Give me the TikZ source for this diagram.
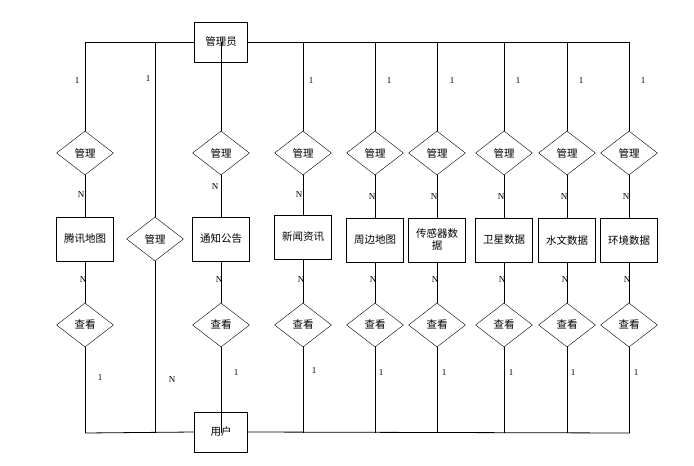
\documentclass[tikz,border=0pt]{standalone}
\usepackage{fontspec}
\setmainfont{Liberation Serif}
\newfontfamily\cjk{Noto Sans CJK SC}
\usetikzlibrary{shapes.geometric}
\begin{document}
\begin{tikzpicture}[x=1pt,y=-1pt,
  ent/.style={draw,thick,fill=white,minimum width=57pt,minimum height=44pt,font=\cjk\fontsize{10.5}{12}\selectfont,align=center,inner sep=1pt},
  rel/.style={draw,fill=white,diamond,aspect=1.27,minimum width=57pt,minimum height=44pt,inner sep=0pt,font=\cjk\fontsize{10.5}{12}\selectfont},
  lab/.style={font=\fontsize{9}{10}\selectfont},
  ln/.style={draw,thick}]
\useasboundingbox (0,0) rectangle (694,466);
\node[ent,minimum width=53pt,minimum height=40pt] (adm) at (221,42) {管理员};
\node[ent,minimum width=53pt,minimum height=40pt] (usr) at (221,432) {用户};
\coordinate (tl) at (85,42); \coordinate (tr) at (630,42);
\coordinate (bl) at (85,433); \coordinate (br) at (630,433);
\draw[ln] (tl) -- (adm.west); \draw[ln] (adm.east) -- (tr);
\draw[ln] (bl) -- (usr.west); \draw[ln] (usr.east) -- (br);
% middle column
\node[rel] (mm) at (155,239) {管理};
\draw[ln] (155,42) -- (mm.north); \draw[ln] (mm.south) -- (155,433);
\node[lab] at (148,79) {1}; \node[lab] at (172,380) {N};
% columns
\foreach \n/\x/\t/\tb/\ty/\ba/\bb/\ey in {
 a/85/腾讯地图/-4/195/100/378/239,
 b/221/通知公告/-6/187/236/373/239,
 c/303/新闻资讯/-4/195/314/371/237,
 d/375/周边地图/-3/197/381/373/240,
 e/437/{传感器数\\据}/-3/197/444/373/240,
 f/504/卫星数据/-3/197/511/373/240,
 g/567/水文数据/-3/197/573/373/240,
 h/629/环境数据/-3/197/636/373/240}{
  \node[rel] (m\n) at (\x,153) {管理};
  \node[ent] (e\n) at (\x,\ey) {\t};
  \node[rel] (v\n) at (\x,325) {查看};
  \draw[ln] (\x,42) -- (m\n.north);
  \draw[ln] (m\n.south) -- (e\n.north);
  \draw[ln] (e\n.south) -- (v\n.north);
  \draw[ln] (v\n.south) -- (\x,433);
  \node[lab] at (\x+\tb,\ty) {N};
  \node[lab] at (\x-2,280) {N};
  \node[lab] at (\ba,\bb) {1};
}
\foreach \xx in {77,311,389,452,518,581,643}{\node[lab] at (\xx,81) {1};}
\end{tikzpicture}
\end{document}
